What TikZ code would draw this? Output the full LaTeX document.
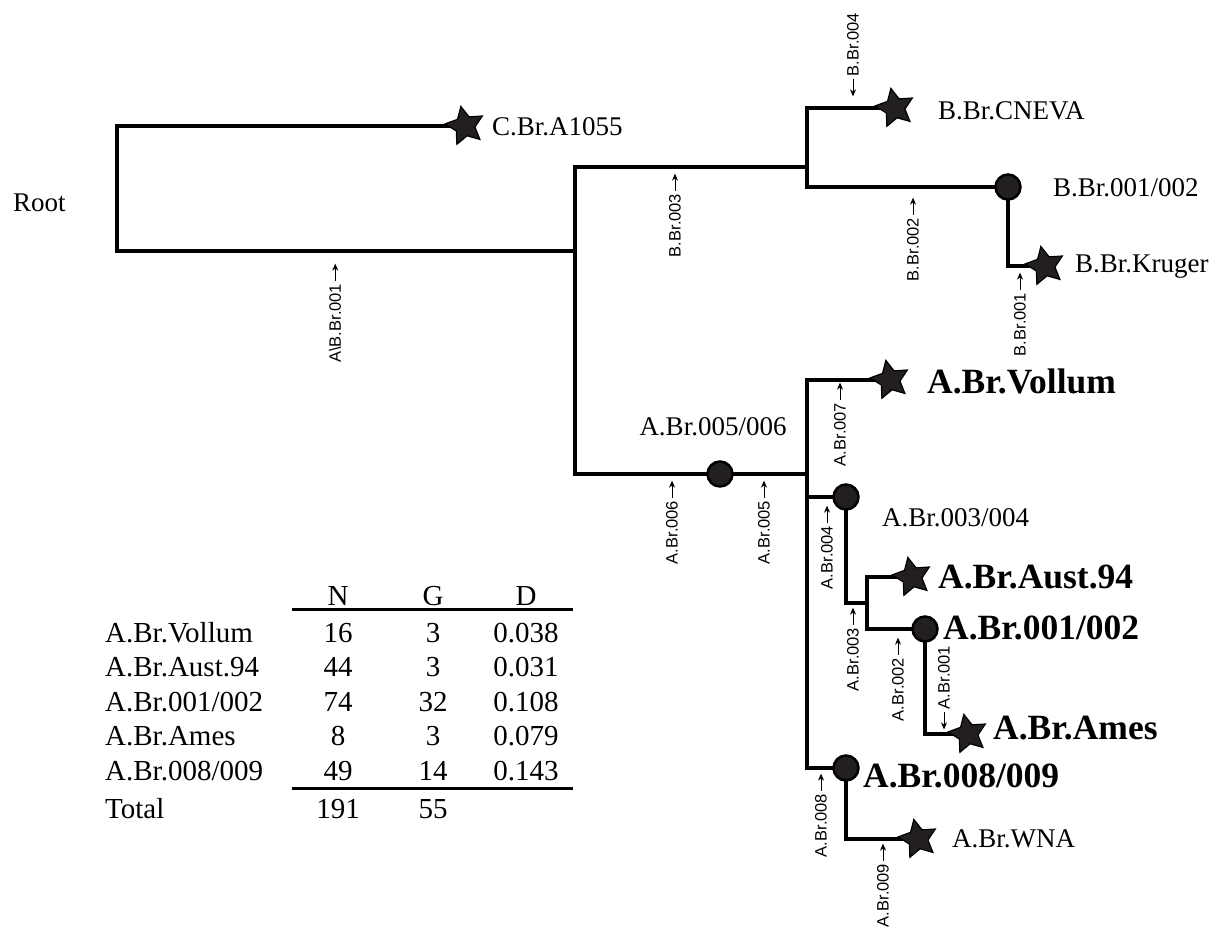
\documentclass[tikz,border=0pt]{standalone}
\usepackage{fontspec}
\setmainfont{Liberation Serif}
\setsansfont{Liberation Sans}
\usetikzlibrary{shapes.geometric,arrows.meta}
\definecolor{dark}{RGB}{35,31,32}
\newcommand\rarr{\tikz[baseline=-0.65ex]\draw[line width=0.9pt,-{Stealth[length=7pt,width=6pt]}](0pt,0pt)--(17pt,0pt);}
\newcommand\larr{\tikz[baseline=-0.65ex]\draw[line width=0.9pt,{Stealth[length=7pt,width=6pt]}-](0pt,0pt)--(17pt,0pt);}
\tikzset{
  branch/.style={line width=3.8pt, line cap=rect},
  leaf/.style={star, star points=5, star point ratio=2.0, minimum size=40pt, inner sep=0pt, draw=black, line width=1.2pt, fill=dark, rotate=12},
  dot/.style={circle, minimum size=25pt, inner sep=0pt, draw=black, line width=2.5pt, fill=dark},
  lab/.style={font=\fontsize{27}{30}\selectfont, inner sep=0pt, anchor=base west},
  blab/.style={font=\bfseries\fontsize{35.5}{38}\selectfont, inner sep=0pt, anchor=base west},
  sm/.style={font=\sffamily\fontsize{16.5}{18}\selectfont, rotate=90, inner sep=0pt},
  tab/.style={font=\fontsize{29}{32}\selectfont, inner sep=0pt, anchor=base},
  tabl/.style={font=\fontsize{29}{32}\selectfont, inner sep=0pt, anchor=base west},
  tline/.style={line width=3pt}
}
\begin{document}
\begin{tikzpicture}[x=1pt,y=-1pt]
\useasboundingbox (0,0) rectangle (1217,930);
% junctions
\coordinate (j0) at (117,189);
\coordinate (j1) at (575,251);
\coordinate (jB) at (807,167);
\coordinate (jA) at (807,474);
\coordinate (j3) at (867,603);
% node positions
\coordinate (psC) at (465,126);
\coordinate (psCN) at (895,108);
\coordinate (psK) at (1045,266);
\coordinate (psV) at (890,380);
\coordinate (psAu) at (912,577);
\coordinate (psAm) at (968,734);
\coordinate (psW) at (918,839);
\coordinate (pcB) at (1008,187);
\coordinate (pc56) at (720,474);
\coordinate (pc34) at (846,497);
\coordinate (pc12) at (925,629);
\coordinate (pc89) at (846,768);
% branches
\draw[branch] (psC) -| (j0) |- (j1);
\draw[branch] (jB) -| (j1) |- (jA);
\draw[branch] (psCN) -| (jB) |- (pcB);
\draw[branch] (pcB) |- (psK);
\draw[branch] (psV) -| (jA) |- (pc89);
\draw[branch] (pc34) -- (pc34 -| jA);
\draw[branch] (pc34) |- (j3);
\draw[branch] (psAu) -| (j3) |- (pc12);
\draw[branch] (pc12) |- (psAm);
\draw[branch] (pc89) |- (psW);
% leaves and dots
\node[leaf] (sC) at (psC) {};
\node[leaf] (sCN) at (psCN) {};
\node[leaf] (sK) at (psK) {};
\node[leaf] (sV) at (psV) {};
\node[leaf] (sAu) at (psAu) {};
\node[leaf] (sAm) at (psAm) {};
\node[leaf] (sW) at (psW) {};
\node[dot] (cB) at (pcB) {};
\node[dot] (c56) at (pc56) {};
\node[dot] (c34) at (pc34) {};
\node[dot] (c12) at (pc12) {};
\node[dot] (c89) at (pc89) {};
% labels
\node[lab] (lRoot) at (13,211) {Root};
\node[lab] (lC) at (492,135) {C.Br.A1055};
\node[lab] (lCN) at (938,119) {B.Br.CNEVA};
\node[lab] (lB12) at (1053,196) {B.Br.001/002};
\node[lab] (lK) at (1075,272) {B.Br.Kruger};
\node[lab, anchor=base] (l56) at (713,435) {A.Br.005/006};
\node[blab] (lV) at (927,393) {A.Br.Vollum};
\node[lab] (l34) at (882,526) {A.Br.003/004};
\node[blab] (lAu) at (938,588) {A.Br.Aust.94};
\node[blab] (l12) at (943,639) {A.Br.001/002};
\node[blab] (lAm) at (993,739) {A.Br.Ames};
\node[blab] (l89) at (863,787) {A.Br.008/009};
\node[lab] (lW) at (952,847) {A.Br.WNA};
% small SNP labels
\node[sm, anchor=east] (mAB) at (335,263) {A\textbackslash B.Br.001\,\rarr};
\node[sm, anchor=east] (mB3) at (675,173) {B.Br.003\,\rarr};
\node[sm, anchor=west] (mB4) at (853,97) {\larr\,B.Br.004};
\node[sm, anchor=east] (mB2) at (913,197) {B.Br.002\,\rarr};
\node[sm, anchor=east] (mB1) at (1020,272) {B.Br.001\,\rarr};
\node[sm, anchor=east] (mA6) at (672,480) {A.Br.006\,\rarr};
\node[sm, anchor=east] (mA5) at (764,480) {A.Br.005\,\rarr};
\node[sm, anchor=east] (mA7) at (840,382) {A.Br.007\,\rarr};
\node[sm, anchor=east] (mA4) at (827,505) {A.Br.004\,\rarr};
\node[sm, anchor=east] (mA3) at (853,607) {A.Br.003\,\rarr};
\node[sm, anchor=east] (mA2) at (898,637) {A.Br.002\,\rarr};
\node[sm, anchor=west] (mA1) at (944,730) {\larr\,A.Br.001};
\node[sm, anchor=east] (mA8) at (821,773) {A.Br.008\,\rarr};
\node[sm, anchor=east] (mA9) at (883,843) {A.Br.009\,\rarr};
% table
\node[tab] (hN) at (338,605) {N};
\node[tab] (hG) at (433,605) {G};
\node[tab] (hD) at (526,605) {D};
\coordinate (tl1) at (292,609);
\coordinate (tl2) at (573,609);
\draw[tline] (tl1) -- (tl2);
\node[tabl] (r1) at (105,642) {A.Br.Vollum};
\node[tab] (r1n) at (338,642) {16};
\node[tab] (r1g) at (433,642) {3};
\node[tab] (r1d) at (526,642) {0.038};
\node[tabl] (r2) at (105,676.5) {A.Br.Aust.94};
\node[tab] (r2n) at (338,676.5) {44};
\node[tab] (r2g) at (433,676.5) {3};
\node[tab] (r2d) at (526,676.5) {0.031};
\node[tabl] (r3) at (105,711) {A.Br.001/002};
\node[tab] (r3n) at (338,711) {74};
\node[tab] (r3g) at (433,711) {32};
\node[tab] (r3d) at (526,711) {0.108};
\node[tabl] (r4) at (105,745.5) {A.Br.Ames};
\node[tab] (r4n) at (338,745.5) {8};
\node[tab] (r4g) at (433,745.5) {3};
\node[tab] (r4d) at (526,745.5) {0.079};
\node[tabl] (r5) at (105,780) {A.Br.008/009};
\node[tab] (r5n) at (338,780) {49};
\node[tab] (r5g) at (433,780) {14};
\node[tab] (r5d) at (526,780) {0.143};
\coordinate (tb1) at (292,788);
\coordinate (tb2) at (573,788);
\draw[tline] (tb1) -- (tb2);
\node[tabl] (r6) at (105,818) {Total};
\node[tab] (r6n) at (338,818) {191};
\node[tab] (r6g) at (433,818) {55};
\end{tikzpicture}
\end{document}
